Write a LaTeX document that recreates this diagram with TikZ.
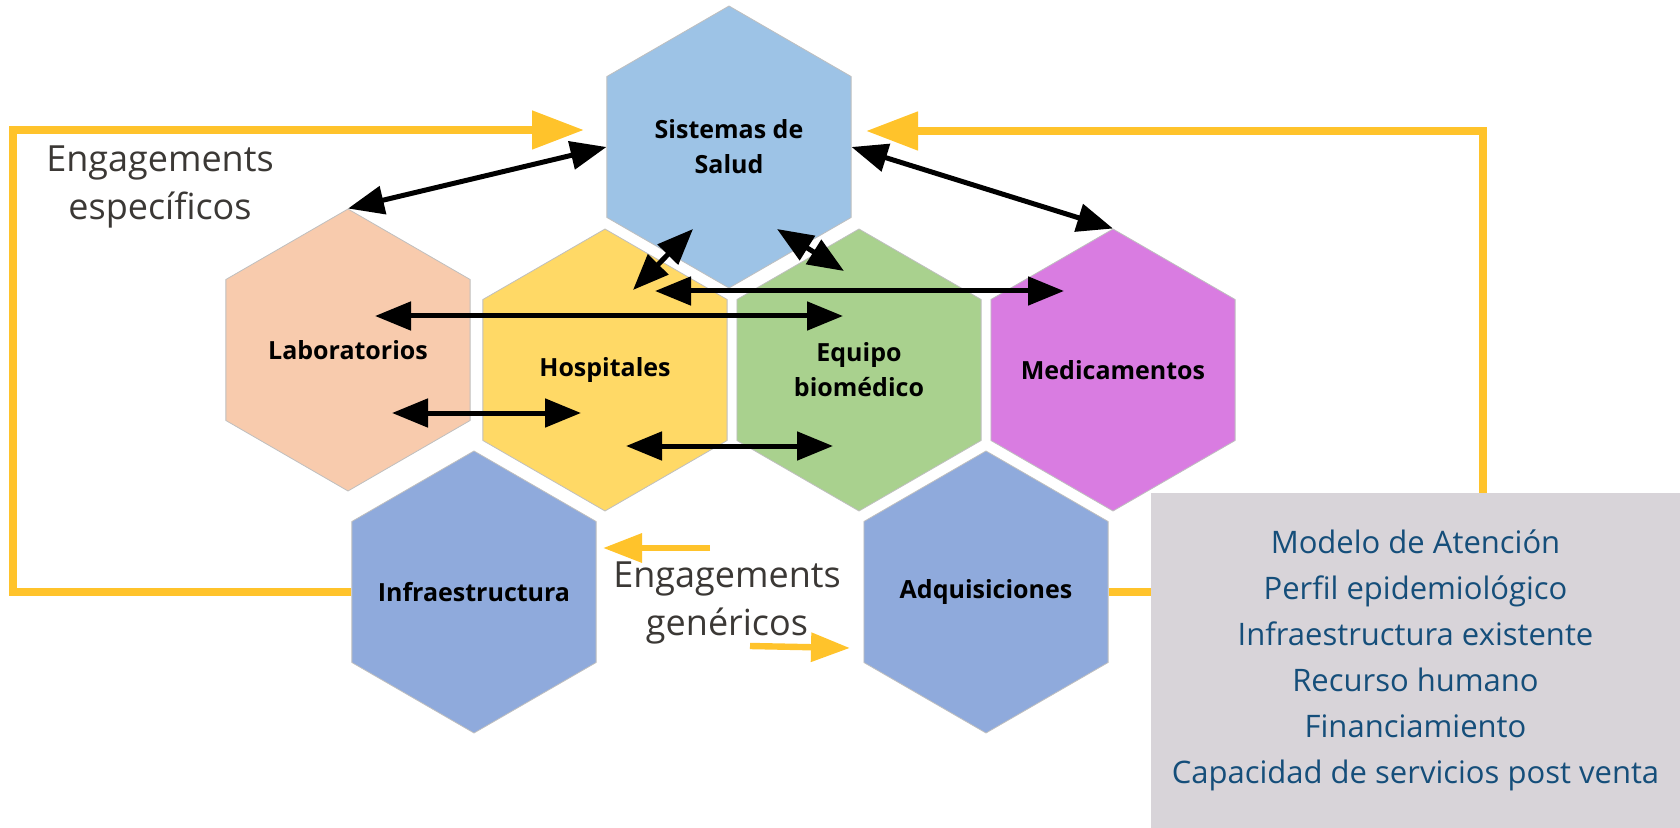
\documentclass[tikz,border=0pt]{standalone}
\usepackage{fontspec}
\setmainfont{Open Sans}
\usetikzlibrary{shapes.geometric,arrows.meta}
\definecolor{salud}{HTML}{9DC3E6}
\definecolor{labo}{HTML}{F8CBAD}
\definecolor{hosp}{HTML}{FFD966}
\definecolor{equipo}{HTML}{A9D18E}
\definecolor{medic}{HTML}{D97CE1}
\definecolor{infra}{HTML}{8FAADC}
\definecolor{engyellow}{HTML}{FFC32B}
\definecolor{boxgray}{HTML}{D8D4D9}
\definecolor{boxtext}{HTML}{154E7A}
\definecolor{notegray}{HTML}{3B3835}
\begin{document}
\begin{tikzpicture}[x=0.5pt,y=-0.5pt,node distance=127pt,
	hexa/.style={regular polygon,regular polygon sides=6,shape border rotate=90,minimum size=141pt,inner xsep=-30pt,inner ysep=0pt,draw=black!25,line width=0.4pt,align=center,font=\bfseries\fontsize{12.5}{17.5}\selectfont},
	link/.style={{Triangle[length=18pt,width=14pt]}-{Triangle[length=18pt,width=14pt]},line width=2.5pt},
	engage/.style={-{Triangle[length=26pt,width=18.5pt]},color=engyellow,line width=4pt},
	engsmall/.style={-{Triangle[length=19.5pt,width=14pt]},color=engyellow,line width=3.2pt},
	note/.style={text=notegray,align=center,font=\fontsize{18}{24}\selectfont}]
		\useasboundingbox (0,0) rectangle (1680,828);
		\node[hexa,fill=salud] (sis) at (729,147) {Sistemas de\\Salud};
		\node[hexa,fill=labo] (lab) at (348,350) {Laboratorios};
		\node[hexa,fill=hosp] (hosp) at (605,370) {Hospitales};
		\node[hexa,fill=equipo] (equ) [right of=hosp] {Equipo\\biomédico};
		\node[hexa,fill=medic] (med) [right of=equ] {Medicamentos};
		\node[hexa,fill=infra] (infra) at (474,592) {Infraestructura};
		\node[hexa,fill=infra] (adq) at (986,592) {Adquisiciones};
		
		\draw[link] (sis.west) -- (lab.north);
		\draw[link] (sis.east) -- (med.north);
		\draw[link] ([shift={(-36,82)}]sis.center) -- ([shift={(28,-80)}]hosp.center);
		\draw[link] ([shift={(48,82)}]sis.center) -- ([shift={(-15,-99)}]equ.center);
		\draw[link] ([shift={(50,-79)}]hosp.center) -- ([shift={(-49,-79)}]med.center);
		\draw[link] ([shift={(27,-34)}]lab.center) -- ([shift={(-16,-54)}]equ.center);
		\draw[link] ([shift={(44,63)}]lab.center) -- ([shift={(-24,43)}]hosp.center);
		\draw[link] ([shift={(21,76)}]hosp.center) -- ([shift={(-26,76)}]equ.center);
		
		\coordinate (lcorner) at (13,130);
		\coordinate (ltip) at (584,130);
		\coordinate (rcorner) at (1483,131);
		\coordinate (rtip) at (866,131);
		\draw[engage] (infra.west) -| (lcorner) -- (ltip);
		\draw[engage] (adq.east) -| (rcorner) -- (rtip);
		
		\coordinate (gtail) at (710,548);
		\coordinate (gtip) at (603,548);
		\coordinate (ptail) at (750,646);
		\coordinate (ptip) at (850,648);
		\draw[engsmall] (gtail) -- (gtip);
		\draw[engsmall] (ptail) -- (ptip);
		
		\node[note] (espec) at (160,187) {Engagements\\específicos};
		\node[note] (gener) at (727,603) {Engagements\\genéricos};
		
		\node[fill=boxgray,minimum width=264.5pt,minimum height=167.5pt,inner sep=0pt,text=boxtext,align=center,font=\fontsize{15.5}{23}\selectfont] (crit) at (1415.5,660.5) {Modelo de Atención\\Perfil epidemiológico\\Infraestructura existente\\Recurso humano\\Financiamiento\\Capacidad de servicios post venta};
\end{tikzpicture}
\end{document}
